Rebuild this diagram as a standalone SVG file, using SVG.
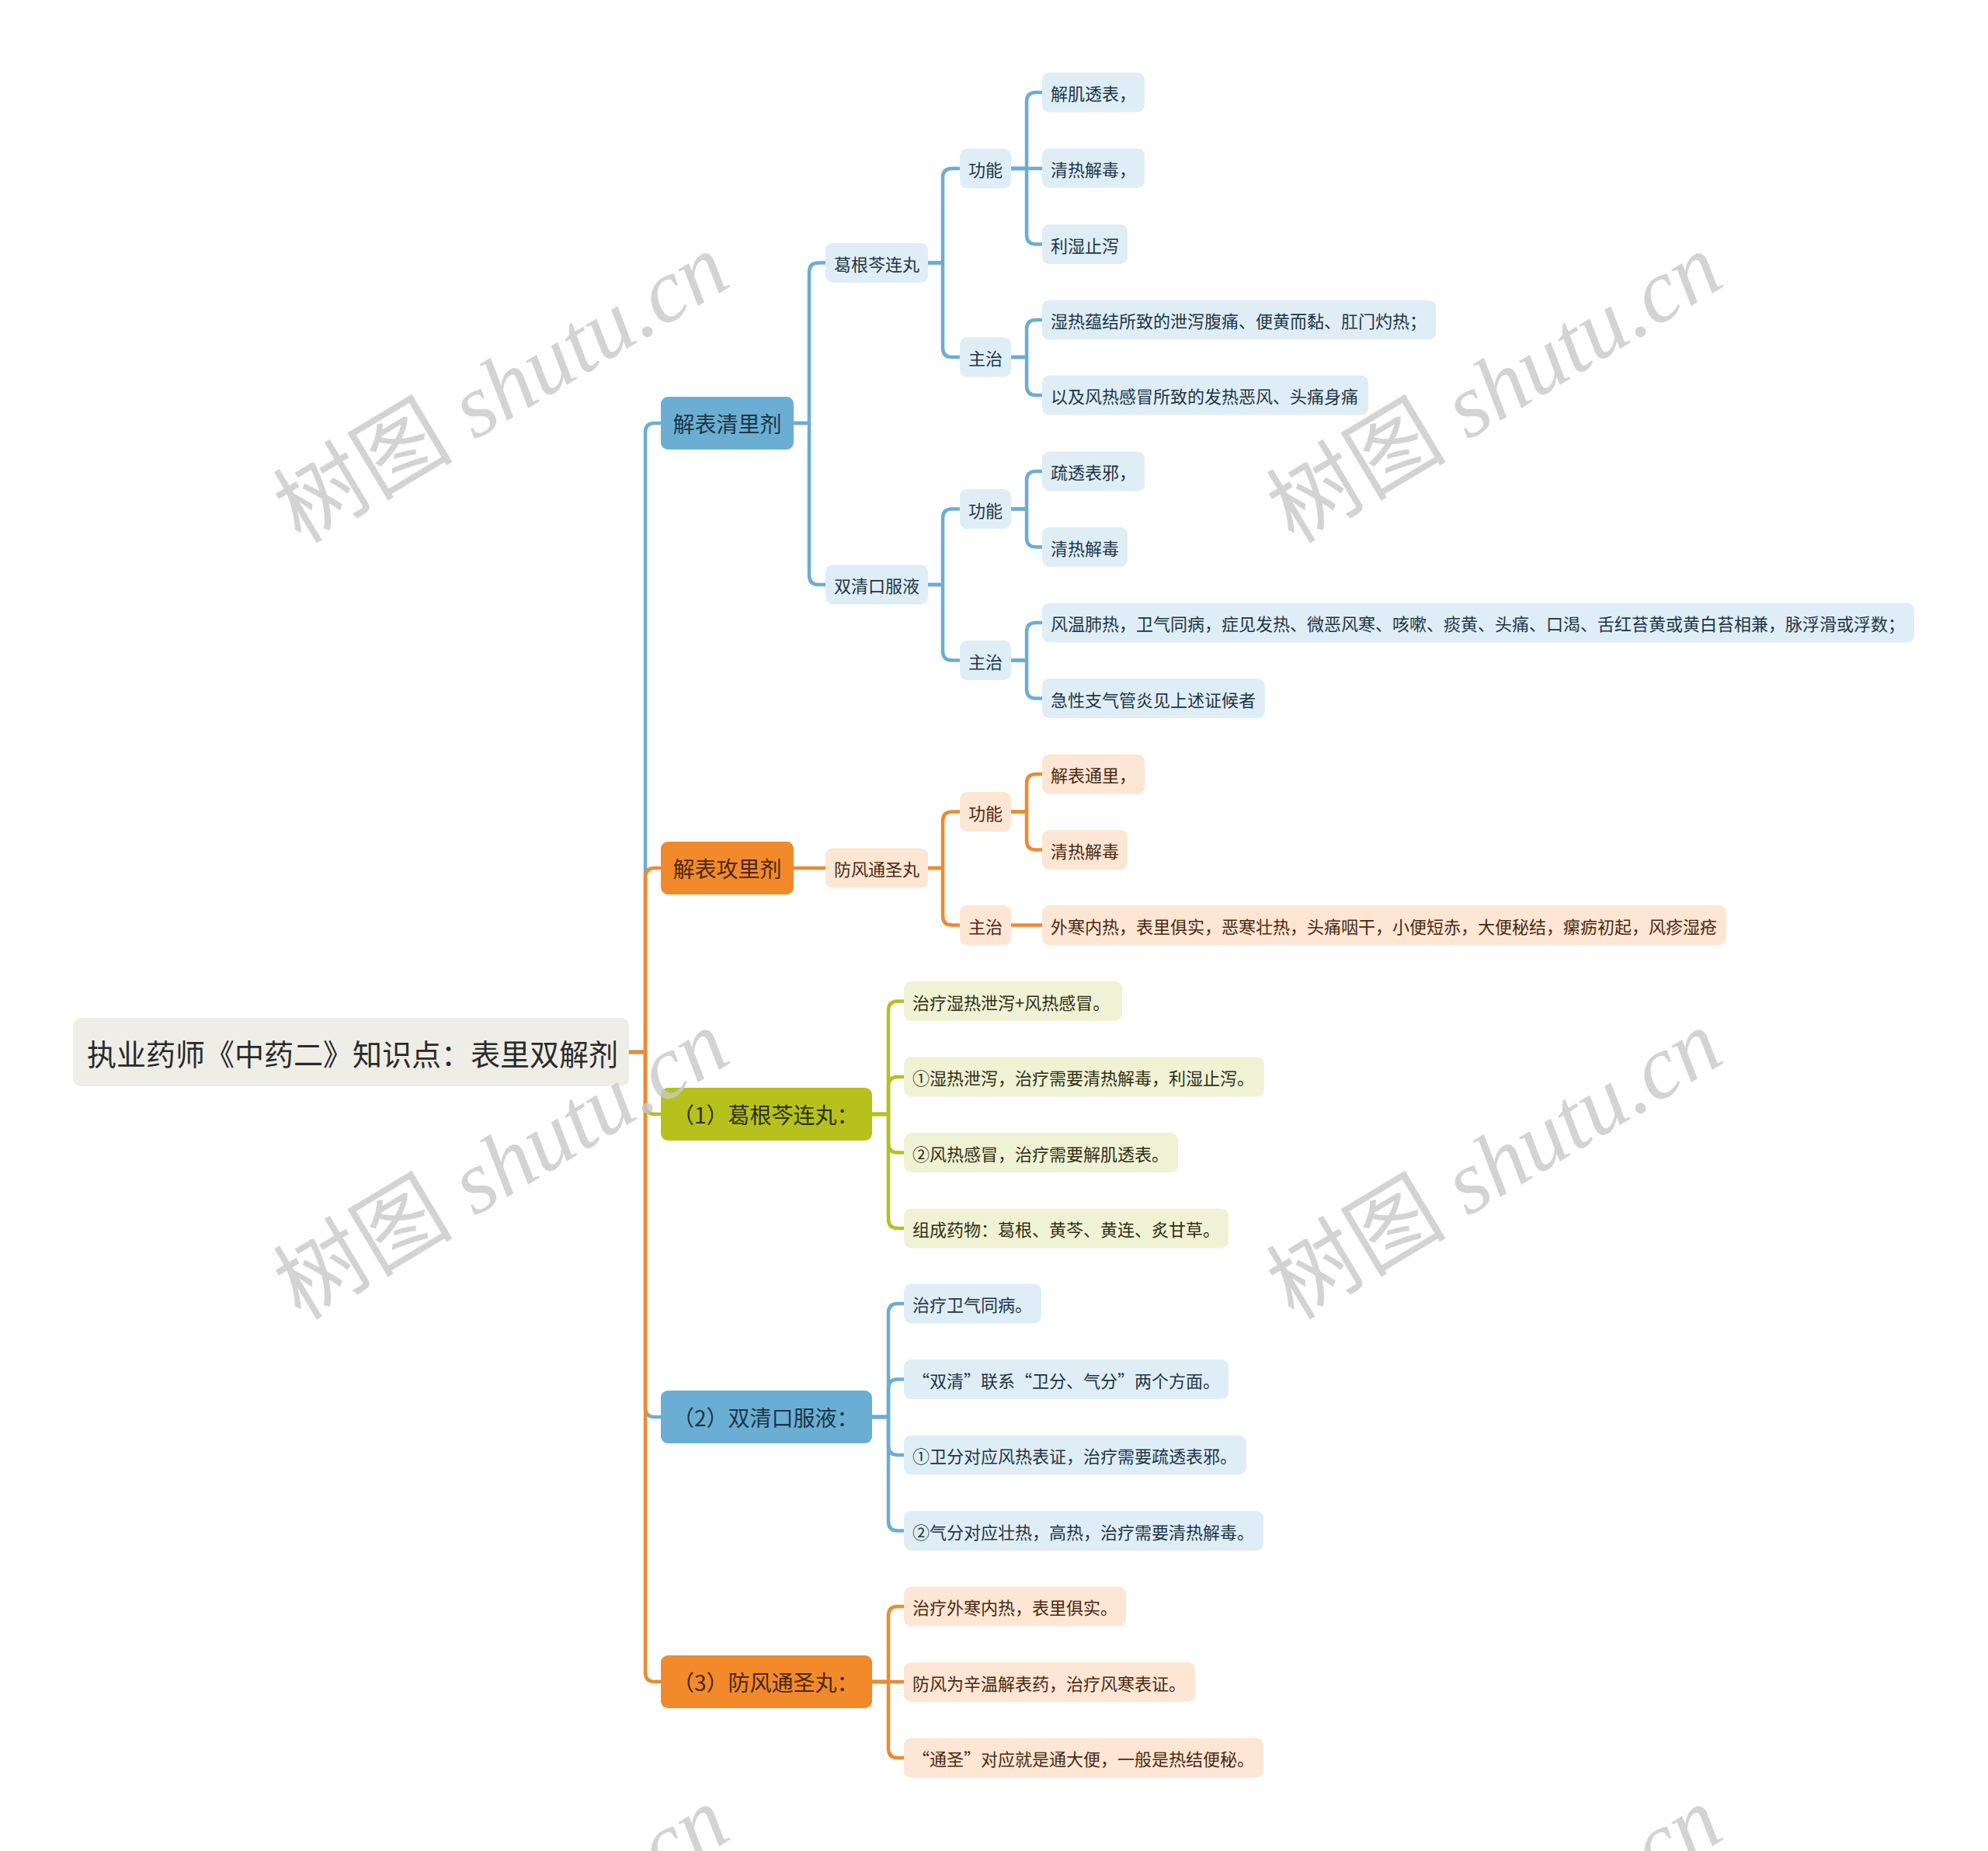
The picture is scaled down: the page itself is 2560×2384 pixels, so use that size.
<svg xmlns="http://www.w3.org/2000/svg" width="2560" height="2384" viewBox="0 0 2560 2384">
<style>
text{font-family:"Noto Sans CJK SC","Noto Sans",sans-serif;dominant-baseline:central}
.c{fill:none;stroke-width:4.5;stroke-linejoin:round}
.cb{stroke:#6badd2}.co{stroke:#ee8a2e}.cg{stroke:#b5c11c}
.l1{font-size:28px}
.lf{font-size:22px}
.fb{fill:#6aafd3}.fo{fill:#f28a2b}.fg{fill:#b7c11b}
.pb{fill:#dfeef6}.po{fill:#fde6d4}.pg{fill:#f0f2d5}
.tb{fill:#1e3446}.to{fill:#4a2810}.tg{fill:#2e2e14}
.wm{font-family:"Liberation Serif","Noto Sans CJK SC",serif;font-size:116px;fill:#c9c9c9;opacity:0.8;dominant-baseline:alphabetic}
</style>
<rect width="2560" height="2384" fill="#ffffff"/>
<g id="connectors">
<path class="c cb" d="M810,1355 H831 V557 Q831,545 843,545 H851"/>
<path class="c co" d="M810,1355 H831 V1130 Q831,1118 843,1118 H851"/>
<path class="c cg" d="M810,1355 H831 V1423 Q831,1435 843,1435 H851"/>
<path class="c cb" d="M810,1355 H831 V1813 Q831,1825 843,1825 H851"/>
<path class="c co" d="M810,1355 H831 V2154 Q831,2166 843,2166 H851"/>
<path class="c cb" d="M1022,545 H1042 V350.5 Q1042,338.5 1054,338.5 H1063"/>
<path class="c cb" d="M1022,545 H1042 V741 Q1042,753 1054,753 H1063"/>
<path class="c co" d="M1022,1118 H1063"/>
<path class="c cb" d="M1195,338.5 H1214 V229 Q1214,217 1226,217 H1236"/>
<path class="c cb" d="M1195,338.5 H1214 V448 Q1214,460 1226,460 H1236"/>
<path class="c cb" d="M1195,753 H1214 V667.5 Q1214,655.5 1226,655.5 H1236"/>
<path class="c cb" d="M1195,753 H1214 V838.5 Q1214,850.5 1226,850.5 H1236"/>
<path class="c co" d="M1195,1118 H1214 V1057.5 Q1214,1045.5 1226,1045.5 H1236"/>
<path class="c co" d="M1195,1118 H1214 V1179.5 Q1214,1191.5 1226,1191.5 H1236"/>
<path class="c cb" d="M1302,217 H1322 V131 Q1322,119 1334,119 H1342"/>
<path class="c cb" d="M1302,217 H1342"/>
<path class="c cb" d="M1302,217 H1322 V302.5 Q1322,314.5 1334,314.5 H1342"/>
<path class="c cb" d="M1302,460 H1322 V424 Q1322,412 1334,412 H1342"/>
<path class="c cb" d="M1302,460 H1322 V497 Q1322,509 1334,509 H1342"/>
<path class="c cb" d="M1302,655.5 H1322 V619 Q1322,607 1334,607 H1342"/>
<path class="c cb" d="M1302,655.5 H1322 V692.5 Q1322,704.5 1334,704.5 H1342"/>
<path class="c cb" d="M1302,850.5 H1322 V814 Q1322,802 1334,802 H1342"/>
<path class="c cb" d="M1302,850.5 H1322 V887.5 Q1322,899.5 1334,899.5 H1342"/>
<path class="c co" d="M1302,1045.5 H1322 V1009 Q1322,997 1334,997 H1342"/>
<path class="c co" d="M1302,1045.5 H1322 V1082.5 Q1322,1094.5 1334,1094.5 H1342"/>
<path class="c co" d="M1302,1191.5 H1342"/>
<path class="c cg" d="M1123,1435 H1144 V1301.5 Q1144,1289.5 1156,1289.5 H1164"/>
<path class="c cg" d="M1123,1435 H1144 V1399 Q1144,1387 1156,1387 H1164"/>
<path class="c cg" d="M1123,1435 H1144 V1472.5 Q1144,1484.5 1156,1484.5 H1164"/>
<path class="c cg" d="M1123,1435 H1144 V1570 Q1144,1582 1156,1582 H1164"/>
<path class="c cb" d="M1123,1825 H1144 V1691 Q1144,1679 1156,1679 H1164"/>
<path class="c cb" d="M1123,1825 H1144 V1788.5 Q1144,1776.5 1156,1776.5 H1164"/>
<path class="c cb" d="M1123,1825 H1144 V1862 Q1144,1874 1156,1874 H1164"/>
<path class="c cb" d="M1123,1825 H1144 V1959.5 Q1144,1971.5 1156,1971.5 H1164"/>
<path class="c co" d="M1123,2166 H1144 V2081 Q1144,2069 1156,2069 H1164"/>
<path class="c co" d="M1123,2166 H1164"/>
<path class="c co" d="M1123,2166 H1144 V2252 Q1144,2264 1156,2264 H1164"/>
</g>
<g id="root"><rect x="94" y="1311" width="716" height="88" rx="10" fill="#eeeee6"/><text x="112" y="1355" font-size="38" fill="#2a2a2a">执业药师《中药二》知识点：表里双解剂</text></g>
<g id="n-jbqlj"><rect x="851" y="511" width="171" height="68" rx="9" class="fb"/><text x="866.5" y="545" class="l1 tb">解表清里剂</text></g>
<g id="n-jbglj"><rect x="851" y="1084" width="171" height="68" rx="9" class="fo"/><text x="866.5" y="1118" class="l1 to">解表攻里剂</text></g>
<g id="n-p1"><rect x="851" y="1401" width="272" height="68" rx="9" class="fg"/><text x="866" y="1435" class="l1 tg">（1）葛根芩连丸：</text></g>
<g id="n-p2"><rect x="851" y="1791" width="272" height="68" rx="9" class="fb"/><text x="866" y="1825" class="l1 tb">（2）双清口服液：</text></g>
<g id="n-p3"><rect x="851" y="2132" width="272" height="68" rx="9" class="fo"/><text x="866" y="2166" class="l1 to">（3）防风通圣丸：</text></g>
<g id="n-a1"><rect x="1063" y="313" width="132" height="51" rx="9" class="pb"/><text x="1074" y="338.5" class="lf tb">葛根芩连丸</text></g>
<g id="n-a2"><rect x="1063" y="727.5" width="132" height="51" rx="9" class="pb"/><text x="1074" y="753" class="lf tb">双清口服液</text></g>
<g id="n-b1"><rect x="1063" y="1092.5" width="132" height="51" rx="9" class="po"/><text x="1074" y="1118" class="lf to">防风通圣丸</text></g>
<g id="n-a1-gn"><rect x="1236" y="191.5" width="66" height="51" rx="9" class="pb"/><text x="1247" y="217" class="lf tb">功能</text></g>
<g id="n-a1-zz"><rect x="1236" y="434.5" width="66" height="51" rx="9" class="pb"/><text x="1247" y="460" class="lf tb">主治</text></g>
<g id="n-a2-gn"><rect x="1236" y="630" width="66" height="51" rx="9" class="pb"/><text x="1247" y="655.5" class="lf tb">功能</text></g>
<g id="n-a2-zz"><rect x="1236" y="825" width="66" height="51" rx="9" class="pb"/><text x="1247" y="850.5" class="lf tb">主治</text></g>
<g id="n-b1-gn"><rect x="1236" y="1020" width="66" height="51" rx="9" class="po"/><text x="1247" y="1045.5" class="lf to">功能</text></g>
<g id="n-b1-zz"><rect x="1236" y="1166" width="66" height="51" rx="9" class="po"/><text x="1247" y="1191.5" class="lf to">主治</text></g>
<g id="l-a1-1"><rect x="1342" y="93.5" width="132" height="51" rx="9" class="pb"/><text x="1353" y="119" class="lf tb">解肌透表，</text></g>
<g id="l-a1-2"><rect x="1342" y="191" width="132" height="51" rx="9" class="pb"/><text x="1353" y="216.5" class="lf tb">清热解毒，</text></g>
<g id="l-a1-3"><rect x="1342" y="289" width="110" height="51" rx="9" class="pb"/><text x="1353" y="314.5" class="lf tb">利湿止泻</text></g>
<g id="l-a1-4"><rect x="1342" y="386.5" width="507" height="51" rx="9" class="pb"/><text x="1353" y="412" class="lf tb">湿热蕴结所致的泄泻腹痛、便黄而黏、肛门灼热；</text></g>
<g id="l-a1-5"><rect x="1342" y="483.5" width="420" height="51" rx="9" class="pb"/><text x="1353" y="509" class="lf tb">以及风热感冒所致的发热恶风、头痛身痛</text></g>
<g id="l-a2-1"><rect x="1342" y="581.5" width="132" height="51" rx="9" class="pb"/><text x="1353" y="607" class="lf tb">疏透表邪，</text></g>
<g id="l-a2-2"><rect x="1342" y="679" width="110" height="51" rx="9" class="pb"/><text x="1353" y="704.5" class="lf tb">清热解毒</text></g>
<g id="l-a2-3"><rect x="1342" y="776.5" width="1123" height="51" rx="9" class="pb"/><text x="1353" y="802" class="lf tb">风温肺热，卫气同病，症见发热、微恶风寒、咳嗽、痰黄、头痛、口渴、舌红苔黄或黄白苔相兼，脉浮滑或浮数；</text></g>
<g id="l-a2-4"><rect x="1342" y="874" width="287" height="51" rx="9" class="pb"/><text x="1353" y="899.5" class="lf tb">急性支气管炎见上述证候者</text></g>
<g id="l-b1-1"><rect x="1342" y="971.5" width="132" height="51" rx="9" class="po"/><text x="1353" y="997" class="lf to">解表通里，</text></g>
<g id="l-b1-2"><rect x="1342" y="1069" width="110" height="51" rx="9" class="po"/><text x="1353" y="1094.5" class="lf to">清热解毒</text></g>
<g id="l-b1-3"><rect x="1342" y="1166" width="881" height="51" rx="9" class="po"/><text x="1353" y="1191.5" class="lf to">外寒内热，表里俱实，恶寒壮热，头痛咽干，小便短赤，大便秘结，瘰疬初起，风疹湿疮</text></g>
<g id="l-p1-1"><rect x="1164" y="1264" width="281" height="51" rx="9" class="pg"/><text x="1175" y="1289.5" class="lf tg">治疗湿热泄泻+风热感冒。</text></g>
<g id="l-p1-2"><rect x="1164" y="1361.5" width="464" height="51" rx="9" class="pg"/><text x="1175" y="1387" class="lf tg">①湿热泄泻，治疗需要清热解毒，利湿止泻。</text></g>
<g id="l-p1-3"><rect x="1164" y="1459" width="353" height="51" rx="9" class="pg"/><text x="1175" y="1484.5" class="lf tg">②风热感冒，治疗需要解肌透表。</text></g>
<g id="l-p1-4"><rect x="1164" y="1556.5" width="418" height="51" rx="9" class="pg"/><text x="1175" y="1582" class="lf tg">组成药物：葛根、黄芩、黄连、炙甘草。</text></g>
<g id="l-p2-1"><rect x="1164" y="1653.5" width="177" height="51" rx="9" class="pb"/><text x="1175" y="1679" class="lf tb">治疗卫气同病。</text></g>
<g id="l-p2-2"><rect x="1164" y="1751" width="418" height="51" rx="9" class="pb"/><text x="1175" y="1776.5" class="lf tb">“双清”联系“卫分、气分”两个方面。</text></g>
<g id="l-p2-3"><rect x="1164" y="1848.5" width="441" height="51" rx="9" class="pb"/><text x="1175" y="1874" class="lf tb">①卫分对应风热表证，治疗需要疏透表邪。</text></g>
<g id="l-p2-4"><rect x="1164" y="1946" width="463" height="51" rx="9" class="pb"/><text x="1175" y="1971.5" class="lf tb">②气分对应壮热，高热，治疗需要清热解毒。</text></g>
<g id="l-p3-1"><rect x="1164" y="2043.5" width="286" height="51" rx="9" class="po"/><text x="1175" y="2069" class="lf to">治疗外寒内热，表里俱实。</text></g>
<g id="l-p3-2"><rect x="1164" y="2141" width="375" height="51" rx="9" class="po"/><text x="1175" y="2166.5" class="lf to">防风为辛温解表药，治疗风寒表证。</text></g>
<g id="l-p3-3"><rect x="1164" y="2238.5" width="463" height="51" rx="9" class="po"/><text x="1175" y="2264" class="lf to">“通圣”对应就是通大便，一般是热结便秘。</text></g>
<g id="watermarks">
<text class="wm" x="666" y="534" text-anchor="middle" transform="rotate(-31 666 534)">树图 <tspan font-style="italic">shutu.cn</tspan></text>
<text class="wm" x="1945" y="534" text-anchor="middle" transform="rotate(-31 1945 534)">树图 <tspan font-style="italic">shutu.cn</tspan></text>
<text class="wm" x="666" y="1534" text-anchor="middle" transform="rotate(-31 666 1534)">树图 <tspan font-style="italic">shutu.cn</tspan></text>
<text class="wm" x="1945" y="1534" text-anchor="middle" transform="rotate(-31 1945 1534)">树图 <tspan font-style="italic">shutu.cn</tspan></text>
<text class="wm" x="666" y="2534" text-anchor="middle" transform="rotate(-31 666 2534)">树图 <tspan font-style="italic">shutu.cn</tspan></text>
<text class="wm" x="1945" y="2534" text-anchor="middle" transform="rotate(-31 1945 2534)">树图 <tspan font-style="italic">shutu.cn</tspan></text>
</g>
</svg>
